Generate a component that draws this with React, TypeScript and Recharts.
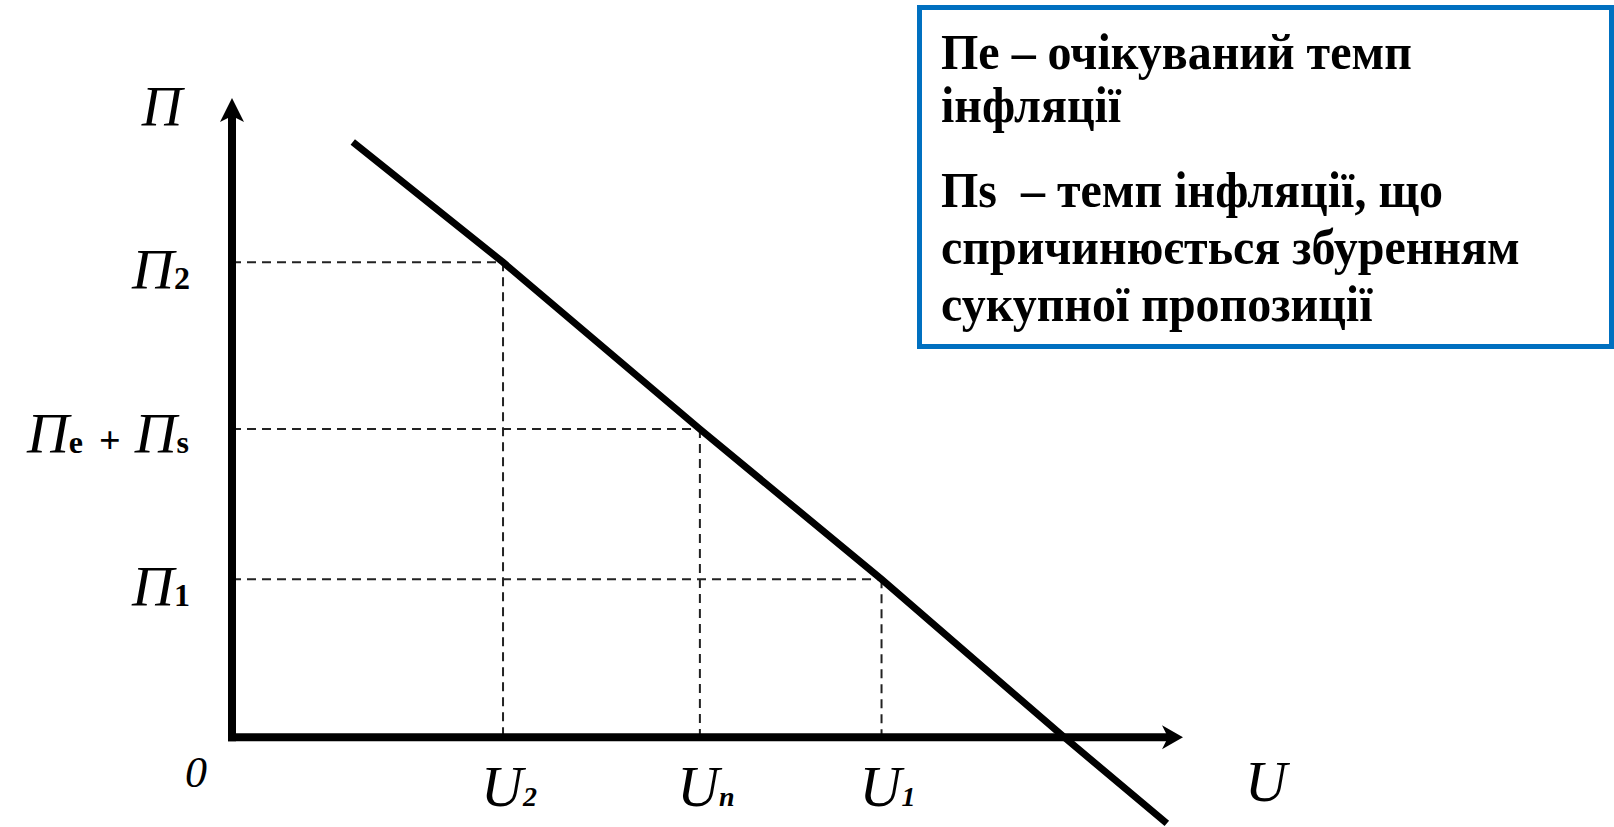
import React from "react";
import { LineChart, Line, XAxis, YAxis, ReferenceLine } from "recharts";

// Phillips curve (u = unemployment, p = inflation)
const curveU = [1.27, 2.85, 4.92, 6.83, 8.75, 9.83];
const curveP = [9.31, 7.43, 4.82, 2.47, 0, -1.35];

// marked levels on the axes
const uTicks = [2.85, 4.92, 6.83];
const uSubs = ["2", "n", "1"];
const piTicks = [7.43, 4.82, 2.47];
const piSubs = ["2", "e+s", "1"];

const noteLines = [
  "Пе – очікуваний темп",
  "інфляції",
  "Пs  – темп інфляції, що",
  "спричинюється збуренням",
  "сукупної пропозиції",
];
const noteBaselines = [69, 122, 207, 264, 321];

const data = curveU.map((u, i) => ({ u, p: curveP[i] }));

const serif = "'Liberation Serif', 'DejaVu Serif', serif";

function YTick(props: any) {
  const { y, payload } = props;
  const sub = piSubs[piTicks.indexOf(payload.value)];
  const by = y + 27;
  if (sub === "e+s") {
    return (
      <text x={189} y={by - 3} textAnchor="end" fontFamily={serif} fill="#000">
        <tspan fontSize={58} fontStyle="italic">Π</tspan>
        <tspan fontSize={32} fontWeight="bold">e</tspan>
        <tspan fontSize={38} fontWeight="bold" dx={16}>+</tspan>
        <tspan fontSize={58} fontStyle="italic" dx={14}>Π</tspan>
        <tspan fontSize={32} fontWeight="bold">s</tspan>
      </text>
    );
  }
  return (
    <text x={190} y={by} textAnchor="end" fontFamily={serif} fill="#000">
      <tspan fontSize={58} fontStyle="italic">Π</tspan>
      <tspan fontSize={32} fontWeight="bold">{sub}</tspan>
    </text>
  );
}

function XTick(props: any) {
  const { x, payload } = props;
  const sub = uSubs[uTicks.indexOf(payload.value)];
  return (
    <text x={x + 6} y={806} textAnchor="middle" fontFamily={serif} fill="#000">
      <tspan fontSize={58} fontStyle="italic">U</tspan>
      <tspan fontSize={28} fontStyle="italic" fontWeight="bold">{sub}</tspan>
    </text>
  );
}

const yAxisShape = (props: any) => {
  const { x1, y1, y2 } = props;
  return (
    <g>
      <line x1={x1} y1={y1 + 4} x2={x1} y2={y2 + 14} stroke="#000" strokeWidth={8} />
      <polygon
        points={`${x1},${y2} ${x1 - 12},${y2 + 24} ${x1},${y2 + 18} ${x1 + 12},${y2 + 24}`}
        fill="#000"
      />
    </g>
  );
};

const xAxisShape = (props: any) => {
  const { x1, x2, y1 } = props;
  return (
    <g>
      <line x1={x1 - 4} y1={y1} x2={x2 - 14} y2={y1} stroke="#000" strokeWidth={8} />
      <polygon
        points={`${x2},${y1} ${x2 - 21},${y1 - 12} ${x2 - 15},${y1} ${x2 - 21},${y1 + 12}`}
        fill="#000"
      />
    </g>
  );
};

export default function App() {
  return (
    <div style={{ position: "absolute", left: 0, top: 0, width: 1614, height: 827, background: "#fff" }}>
      <LineChart
        width={1614}
        height={827}
        data={data}
        margin={{ top: 98, right: 431, bottom: 0, left: 0 }}
      >
        <XAxis
          dataKey="u"
          type="number"
          domain={[0, 10]}
          ticks={uTicks}
          interval={0}
          height={1}
          axisLine={false}
          tickLine={false}
          tick={<XTick />}
        />
        <YAxis
          type="number"
          domain={[-1.39, 10]}
          ticks={piTicks}
          interval={0}
          width={232}
          axisLine={false}
          tickLine={false}
          tick={<YTick />}
        />

        {piTicks.map((p, i) => (
          <ReferenceLine
            key={"h" + i}
            segment={[{ x: 0, y: p }, { x: uTicks[i], y: p }]}
            stroke="#222"
            strokeWidth={2}
            strokeDasharray="9 6"
          />
        ))}
        {uTicks.map((u, i) => (
          <ReferenceLine
            key={"v" + i}
            segment={[{ x: u, y: piTicks[i] }, { x: u, y: 0 }]}
            stroke="#222"
            strokeWidth={2}
            strokeDasharray="9 6"
          />
        ))}

        <ReferenceLine segment={[{ x: 0, y: 0 }, { x: 0, y: 10 }]} shape={yAxisShape} />
        <ReferenceLine segment={[{ x: 0, y: 0 }, { x: 10, y: 0 }]} shape={xAxisShape} />

        <Line
          dataKey="p"
          type="linear"
          stroke="#000"
          strokeWidth={7}
          dot={false}
          activeDot={false}
          isAnimationActive={false}
        />
      </LineChart>

      <svg
        width={1614}
        height={827}
        style={{ position: "absolute", left: 0, top: 0, pointerEvents: "none" }}
      >
        <text x={162} y={126} textAnchor="middle" fontFamily={serif} fontSize={56} fontStyle="italic">
          Π
        </text>
        <text x={196} y={787} textAnchor="middle" fontFamily={serif} fontSize={44} fontStyle="italic">
          0
        </text>
        <text x={1266} y={801} textAnchor="middle" fontFamily={serif} fontSize={58} fontStyle="italic">
          U
        </text>

        <rect x={919.5} y={7.5} width={692} height={339} fill="#fff" stroke="#0070C0" strokeWidth={5} />
        {noteLines.map((t, i) => (
          <text
            key={i}
            transform={`translate(941 ${noteBaselines[i]}) scale(0.96 1)`}
            fontFamily={serif}
            fontSize={50}
            fontWeight="bold"
            fill="#000"
            style={{ whiteSpace: "pre" }}
          >
            {t}
          </text>
        ))}
      </svg>
    </div>
  );
}
